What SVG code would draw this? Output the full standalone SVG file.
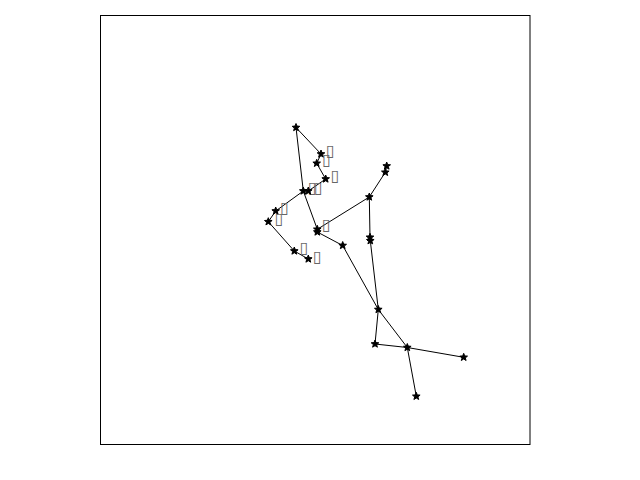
<svg xmlns="http://www.w3.org/2000/svg" xmlns:xlink="http://www.w3.org/1999/xlink" width="640" height="480" viewBox="0 0 640 480">
<style>
.e{stroke:#000;stroke-width:1;fill:none}
.lb{font-family:"DejaVu Sans",sans-serif;font-size:16px;fill:#666}
</style>
<defs>
<path id="m" d="M0,-4 L1,-1.4 L3.8,-1.2 L1.6,0.6 L2.4,3.2 L0,1.7 L-2.4,3.2 L-1.6,0.6 L-3.8,-1.2 L-1,-1.4 Z" fill="#000" stroke="#000" stroke-width="1"/>
</defs>
<rect width="640" height="480" fill="#fff"/>
<rect x="100.5" y="15.5" width="429.5" height="429" fill="none" stroke="#000" stroke-width="1"/>
<g id="edges" class="e">
<line x1="296" y1="127.5" x2="303.3" y2="191"/>
<line x1="296" y1="127.5" x2="321" y2="154"/>
<line x1="321" y1="154" x2="316.7" y2="163.3"/>
<line x1="316.7" y1="163.3" x2="325.7" y2="179"/>
<line x1="325.7" y1="179" x2="308.3" y2="191"/>
<line x1="303.3" y1="191" x2="308.3" y2="191"/>
<line x1="303.3" y1="191" x2="275.7" y2="211"/>
<line x1="275.7" y1="211" x2="268.3" y2="221.7"/>
<line x1="268.3" y1="221.7" x2="294.3" y2="251"/>
<line x1="294.3" y1="251" x2="308.3" y2="259"/>
<line x1="303.3" y1="191" x2="317.3" y2="229.3"/>
<line x1="317.3" y1="229.3" x2="317.3" y2="232"/>
<line x1="317.3" y1="229.3" x2="369.3" y2="197"/>
<line x1="317.3" y1="232" x2="342.7" y2="245.5"/>
<line x1="342.7" y1="245.5" x2="378.3" y2="309.5"/>
<line x1="378.3" y1="309.5" x2="407.3" y2="347.5"/>
<line x1="369.3" y1="197" x2="385.3" y2="172.3"/>
<line x1="385.3" y1="172.3" x2="386.7" y2="166"/>
<line x1="369.3" y1="197" x2="370" y2="237.3"/>
<line x1="370" y1="237.3" x2="370.3" y2="240.7"/>
<line x1="370.3" y1="240.7" x2="378.3" y2="309.5"/>
<line x1="378.3" y1="309.5" x2="375" y2="344"/>
<line x1="375" y1="344" x2="407.3" y2="347.5"/>
<line x1="407.3" y1="347.5" x2="463.7" y2="357.3"/>
<line x1="407.3" y1="347.5" x2="416.3" y2="396.3"/>
</g>
<g id="nA"><use xlink:href="#m" x="296" y="127.5"/></g>
<g id="nB"><use xlink:href="#m" x="321" y="154"/><text class="lb" x="326" y="156">▯</text></g>
<g id="nC"><use xlink:href="#m" x="316.7" y="163.3"/><text class="lb" x="322.3" y="165">▯</text></g>
<g id="nD"><use xlink:href="#m" x="325.7" y="179"/><text class="lb" x="330.7" y="181">▯</text></g>
<g id="nE1"><use xlink:href="#m" x="303.3" y="191"/><text class="lb" x="308" y="193">▯</text></g>
<g id="nE2"><use xlink:href="#m" x="308.3" y="191"/><text class="lb" x="314" y="193">▯</text></g>
<g id="nF"><use xlink:href="#m" x="275.7" y="211"/><text class="lb" x="280.3" y="213">▯</text></g>
<g id="nG"><use xlink:href="#m" x="268.3" y="221.7"/><text class="lb" x="274.7" y="223.5">▯</text></g>
<g id="nH"><use xlink:href="#m" x="294.3" y="251"/><text class="lb" x="299.7" y="253">▯</text></g>
<g id="nI"><use xlink:href="#m" x="308.3" y="259"/><text class="lb" x="313" y="261.5">▯</text></g>
<g id="nJ1"><use xlink:href="#m" x="317.3" y="229.3"/><text class="lb" x="322" y="230">▯</text></g>
<g id="nJ2"><use xlink:href="#m" x="317.3" y="232"/></g>
<g id="nK"><use xlink:href="#m" x="342.7" y="245.5"/></g>
<g id="nL"><use xlink:href="#m" x="369.3" y="197"/></g>
<g id="nM1"><use xlink:href="#m" x="385.3" y="172.3"/></g>
<g id="nM2"><use xlink:href="#m" x="386.7" y="166"/></g>
<g id="nN1"><use xlink:href="#m" x="370" y="237.3"/></g>
<g id="nN2"><use xlink:href="#m" x="370.3" y="240.7"/></g>
<g id="nO"><use xlink:href="#m" x="378.3" y="309.5"/></g>
<g id="nP"><use xlink:href="#m" x="375" y="344"/></g>
<g id="nQ"><use xlink:href="#m" x="407.3" y="347.5"/></g>
<g id="nR"><use xlink:href="#m" x="463.7" y="357.3"/></g>
<g id="nS"><use xlink:href="#m" x="416.3" y="396.3"/></g>
</svg>
